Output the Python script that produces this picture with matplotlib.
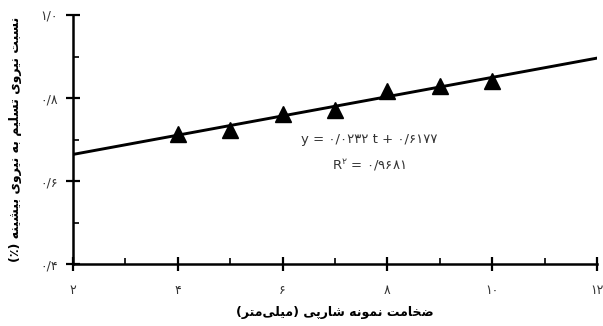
import matplotlib
matplotlib.use("Agg")
import matplotlib.pyplot as plt
import numpy as np
from matplotlib.ticker import MultipleLocator

# ---- data ----
thickness = [4, 5, 6, 7, 8, 9, 10]
ratio = [0.714, 0.722, 0.762, 0.772, 0.818, 0.828, 0.840]
fit_slope = 0.0232
fit_intercept = 0.6177
fit_range = [2, 12]
x_ticks = [2, 4, 6, 8, 10, 12]
x_tick_labels = ["۲", "۴", "۶", "۸", "۱۰", "۱۲"]
y_ticks = [0.4, 0.6, 0.8, 1.0]
y_tick_labels = ["۰/۴", "۰/۶", "۰/۸", "۱/۰"]
x_label = "ضخامت نمونه شارپی (میلی‌متر)"
y_label = "نسبت نیروی تسلیم به نیروی بیشینه (٪)"
eq_text = "y = ۰/۰۲۳۲ t + ۰/۶۱۷۷"
r2_text = "R$^{\\mathregular{۲}}$ = ۰/۹۶۸۱"

# ---- minimal Arabic-script shaping (matplotlib has no complex text layout) ----
FORMS = {
    "ا": ("\uFE8D", "\uFE8E"),
    "د": ("\uFEA9", "\uFEAA"),
    "ر": ("\uFEAD", "\uFEAE"),
    "ز": ("\uFEAF", "\uFEB0"),
    "و": ("\uFEED", "\uFEEE"),
    "ب": ("\uFE8F", "\uFE90", "\uFE91", "\uFE92"),
    "ت": ("\uFE95", "\uFE96", "\uFE97", "\uFE98"),
    "خ": ("\uFEA5", "\uFEA6", "\uFEA7", "\uFEA8"),
    "س": ("\uFEB1", "\uFEB2", "\uFEB3", "\uFEB4"),
    "ش": ("\uFEB5", "\uFEB6", "\uFEB7", "\uFEB8"),
    "ض": ("\uFEBD", "\uFEBE", "\uFEBF", "\uFEC0"),
    "ل": ("\uFEDD", "\uFEDE", "\uFEDF", "\uFEE0"),
    "م": ("\uFEE1", "\uFEE2", "\uFEE3", "\uFEE4"),
    "ن": ("\uFEE5", "\uFEE6", "\uFEE7", "\uFEE8"),
    "ه": ("\uFEE9", "\uFEEA", "\uFEEB", "\uFEEC"),
    "ی": ("\uFBFC", "\uFBFD", "\uFBFE", "\uFBFF"),
    "پ": ("\uFB56", "\uFB57", "\uFB58", "\uFB59"),
}


def rtl(s):
    out = []
    for i, c in enumerate(s):
        if c not in FORMS:
            if c != "\u200c":
                out.append(c)
            continue
        prev = s[i - 1] if i > 0 else None
        nxt = s[i + 1] if i + 1 < len(s) else None
        join_prev = prev in FORMS and len(FORMS[prev]) == 4
        join_next = len(FORMS[c]) == 4 and nxt in FORMS
        f = FORMS[c]
        if join_prev and join_next:
            out.append(f[3])
        elif join_prev:
            out.append(f[1])
        elif join_next:
            out.append(f[2])
        else:
            out.append(f[0])
    mirror = {"(": ")", ")": "("}
    return "".join(mirror.get(ch, ch) for ch in reversed(out))


plt.rcParams["font.family"] = ["DejaVu Sans"]

fig = plt.figure(figsize=(6.03, 3.26), dpi=100)
ax = fig.add_axes([0.121, 0.190, 0.869, 0.764])

xl = np.array(fit_range, dtype=float)
ax.plot(xl, fit_slope * xl + fit_intercept, color="black", lw=2.1, zorder=2)
ax.plot(thickness, ratio, linestyle="none", marker="^", markersize=11,
        color="black", zorder=3)

ax.set_xlim(2, 12)
ax.set_ylim(0.4, 1.0)
for side in ("top", "right"):
    ax.spines[side].set_visible(False)
for side in ("left", "bottom"):
    ax.spines[side].set_linewidth(1.8)

ax.set_xticks(x_ticks)
ax.set_xticklabels(x_tick_labels)
ax.set_yticks(y_ticks)
ax.set_yticklabels(y_tick_labels)
ax.xaxis.set_minor_locator(MultipleLocator(1))
ax.yaxis.set_minor_locator(MultipleLocator(0.1))
ax.tick_params(which="major", direction="inout", length=10, width=1.6,
               labelsize=9, labelcolor="#333333")
ax.tick_params(axis="x", which="major", pad=9)
ax.tick_params(axis="y", which="major", pad=6)
ax.tick_params(which="minor", direction="in", length=4, width=1.2)

ax.set_xlabel(rtl(x_label), fontsize=9, fontweight="bold", labelpad=7)
ax.set_ylabel(rtl(y_label), fontsize=9, fontweight="bold", labelpad=13)

ax.text(0.565, 0.50, eq_text, transform=ax.transAxes, ha="center",
        va="center", fontsize=9.5, color="#333333")
ax.text(0.565, 0.40, r2_text, transform=ax.transAxes, ha="center",
        va="center", fontsize=9.5, color="#333333")

fig.savefig("out.png", dpi=100)
